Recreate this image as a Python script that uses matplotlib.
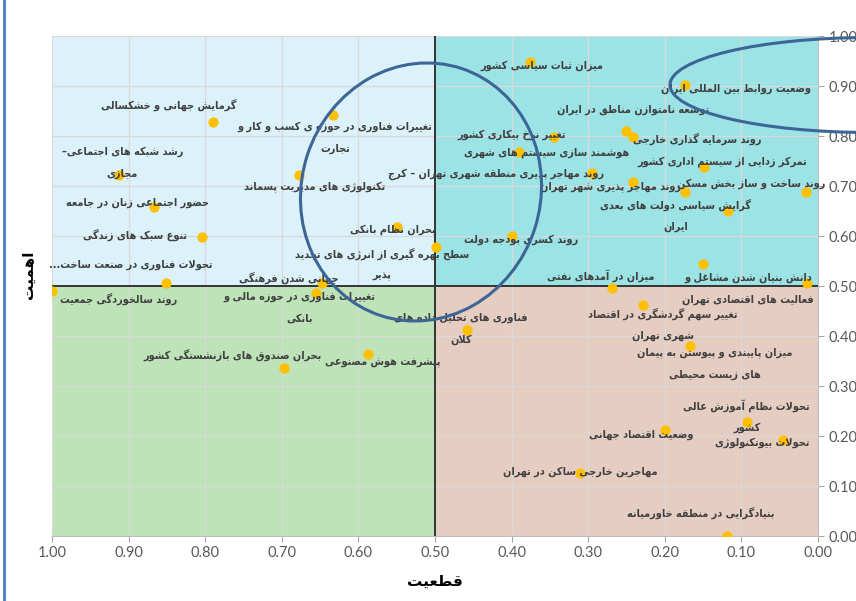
import numpy as np
import matplotlib
matplotlib.use('Agg')
import matplotlib.pyplot as plt
from matplotlib.patches import Ellipse
from matplotlib.lines import Line2D

# --- data (certainty on x, importance on y) ---
labels = [
    'گرمایش جهانی و خشکسالی',
    'رشد شبکه های اجتماعی–\nمجازی',
    'حضور اجتماعی زنان در جامعه',
    'تنوع سبک های زندگی',
    'تحولات فناوری در صنعت ساخت...',
    'روند سالخوردگی جمعیت',
    'تغییرات فناوری در حوزه ی کسب و کار و\nتجارت',
    'تکنولوژی های مدیریت پسماند',
    'بحران نظام بانکی',
    'سطح بهره گیری از انرژی های تجدید\nپذیر',
    'جهانی شدن فرهنگی',
    'تغییرات فناوری در حوزه مالی و\nبانکی',
    'بحران صندوق های بازنشستگی کشور',
    'پیشرفت هوش مصنوعی',
    'فناوری های تحلیل داده های\nکلان',
    'میزان ثبات سیاسی کشور',
    'وضعیت روابط بین المللی ایران',
    'توسعه نامتوازن مناطق در ایران',
    'روند سرمایه گذاری خارجی',
    'تغییر نرخ بیکاری کشور',
    'هوشمند سازی سیستم های شهری',
    'روند مهاجر پذیری منطقه شهری تهران – کرج',
    'روند مهاجر پذیری شهر تهران',
    'تمرکز زدایی از سیستم اداری کشور',
    'روند ساخت و ساز بخش مسکن',
    'گرایش سیاسی دولت های بعدی\nایران',
    '',
    'روند کسری بودجه دولت',
    'میزان در آمدهای نفتی',
    'دانش بنیان شدن مشاغل و\nفعالیت های اقتصادی تهران',
    '',
    'تغییر سهم گردشگری در اقتصاد\nشهری تهران',
    'میزان پایبندی و پیوستن به پیمان\nهای زیست محیطی',
    'تحولات نظام آموزش عالی\nکشور',
    'تحولات بیوتکنولوژی',
    'وضعیت اقتصاد جهانی',
    'مهاجرین خارجی ساکن در تهران',
    'بنیادگرایی در منطقه خاورمیانه',
]
certainty = [0.790, 0.912, 0.867, 0.804, 0.851, 1.000, 0.633, 0.678, 0.549, 0.499,
             0.647, 0.656, 0.697, 0.587, 0.458, 0.376, 0.173, 0.251, 0.242, 0.344,
             0.390, 0.295, 0.242, 0.149, 0.016, 0.118, 0.173, 0.400, 0.269, 0.014,
             0.150, 0.229, 0.167, 0.093, 0.046, 0.200, 0.311, 0.119]
importance = [0.828, 0.722, 0.658, 0.598, 0.506, 0.490, 0.842, 0.722, 0.618, 0.578,
              0.506, 0.486, 0.336, 0.364, 0.412, 0.948, 0.902, 0.810, 0.798, 0.798,
              0.768, 0.726, 0.708, 0.738, 0.688, 0.650, 0.688, 0.600, 0.496, 0.506,
              0.544, 0.462, 0.380, 0.228, 0.192, 0.212, 0.126, 0.000]
ticks = [0.0, 0.1, 0.2, 0.3, 0.4, 0.5, 0.6, 0.7, 0.8, 0.9, 1.0]

# label offsets from their point, in pixels (centre of the label block)
offsets = [(-44, 17), (3, 12), (-16, 4), (-67, 2), (-35, 18), (67, -8), (2, -23),
           (16, -12), (-5, -3), (-54, -18), (-34, 5), (-16, -15), (-52, 13), (14, -9),
           (-6, 1), (12, -4), (51, -4), (7, 21), (65, -2), (-43, 2), (27, -1),
           (-96, -1), (-22, -5), (18, 5), (-55, 8), (-52, -5), (0, 0), (10, -4),
           (-11, 12), (-59, -6), (0, 0), (20, -20), (25, -18), (0, 5), (-21, -3),
           (-24, -5), (0, 1), (-26, 23)]
line_pitch = 22  # px between lines of a wrapped label

# --- minimal Persian shaping (matplotlib has no complex text layout) ---
FORMS = {
    'ا': ('\uFE8D', '\uFE8E', None, None), 'آ': ('\uFE81', '\uFE82', None, None),
    'ب': ('\uFE8F', '\uFE90', '\uFE91', '\uFE92'), 'پ': ('\uFB56', '\uFB57', '\uFB58', '\uFB59'),
    'ت': ('\uFE95', '\uFE96', '\uFE97', '\uFE98'), 'ث': ('\uFE99', '\uFE9A', '\uFE9B', '\uFE9C'),
    'ج': ('\uFE9D', '\uFE9E', '\uFE9F', '\uFEA0'), 'چ': ('\uFB7A', '\uFB7B', '\uFB7C', '\uFB7D'),
    'ح': ('\uFEA1', '\uFEA2', '\uFEA3', '\uFEA4'), 'خ': ('\uFEA5', '\uFEA6', '\uFEA7', '\uFEA8'),
    'د': ('\uFEA9', '\uFEAA', None, None), 'ذ': ('\uFEAB', '\uFEAC', None, None),
    'ر': ('\uFEAD', '\uFEAE', None, None), 'ز': ('\uFEAF', '\uFEB0', None, None),
    'ژ': ('\uFB8A', '\uFB8B', None, None),
    'س': ('\uFEB1', '\uFEB2', '\uFEB3', '\uFEB4'), 'ش': ('\uFEB5', '\uFEB6', '\uFEB7', '\uFEB8'),
    'ص': ('\uFEB9', '\uFEBA', '\uFEBB', '\uFEBC'), 'ض': ('\uFEBD', '\uFEBE', '\uFEBF', '\uFEC0'),
    'ط': ('\uFEC1', '\uFEC2', '\uFEC3', '\uFEC4'), 'ظ': ('\uFEC5', '\uFEC6', '\uFEC7', '\uFEC8'),
    'ع': ('\uFEC9', '\uFECA', '\uFECB', '\uFECC'), 'غ': ('\uFECD', '\uFECE', '\uFECF', '\uFED0'),
    'ف': ('\uFED1', '\uFED2', '\uFED3', '\uFED4'), 'ق': ('\uFED5', '\uFED6', '\uFED7', '\uFED8'),
    'ک': ('\uFB8E', '\uFB8F', '\uFB90', '\uFB91'), 'گ': ('\uFB92', '\uFB93', '\uFB94', '\uFB95'),
    'ل': ('\uFEDD', '\uFEDE', '\uFEDF', '\uFEE0'), 'م': ('\uFEE1', '\uFEE2', '\uFEE3', '\uFEE4'),
    'ن': ('\uFEE5', '\uFEE6', '\uFEE7', '\uFEE8'), 'ه': ('\uFEE9', '\uFEEA', '\uFEEB', '\uFEEC'),
    'و': ('\uFEED', '\uFEEE', None, None),
    'ی': ('\uFBFC', '\uFBFD', '\uFBFE', '\uFBFF'), 'ئ': ('\uFE89', '\uFE8A', '\uFE8B', '\uFE8C'),
}
LAM_ALEF = {'ا': ('\uFEFB', '\uFEFC'), 'آ': ('\uFEF5', '\uFEF6')}


def shape_line(s):
    out = []
    n = len(s)
    i = 0
    while i < n:
        c = s[i]
        if c not in FORMS:
            out.append(c)
            i += 1
            continue
        prev = s[i - 1] if i > 0 else None
        pj = prev in FORMS and FORMS[prev][2] is not None
        if c == 'ل' and i + 1 < n and s[i + 1] in LAM_ALEF:
            lig = LAM_ALEF[s[i + 1]]
            out.append(lig[1] if pj else lig[0])
            i += 2
            continue
        nxt = s[i + 1] if i + 1 < n else None
        nj = FORMS[c][2] is not None and nxt in FORMS
        iso, fin, ini, med = FORMS[c]
        if pj and nj:
            out.append(med)
        elif pj:
            out.append(fin)
        elif nj:
            out.append(ini)
        else:
            out.append(iso)
        i += 1
    return ''.join(out)[::-1]


def fa(s):
    return '\n'.join(shape_line(l) for l in s.split('\n'))


fig = plt.figure(figsize=(8.56, 6.01), dpi=100)
ax = fig.add_axes([52 / 856, 65 / 601, 766 / 856, 500 / 601])

# quadrant backgrounds
ax.fill_between([1.0, 0.5], 0.5, 1.0, color='#DCF2FB', zorder=0, lw=0)
ax.fill_between([0.5, 0.0], 0.5, 1.0, color='#9CE3E6', zorder=0, lw=0)
ax.fill_between([1.0, 0.5], 0.0, 0.5, color='#BEE3B9', zorder=0, lw=0)
ax.fill_between([0.5, 0.0], 0.0, 0.5, color='#E6CDC2', zorder=0, lw=0)

ax.set_xlim(1.0, 0.0)
ax.set_ylim(0.0, 1.0)
ax.set_xticks(ticks)
ax.set_yticks(ticks)
ax.set_xticklabels([f'{t:.2f}' for t in ticks])
ax.set_yticklabels([f'{t:.2f}' for t in ticks])
ax.yaxis.tick_right()
ax.grid(True, color='#D9D9D9', lw=0.9, zorder=0.5)
ax.set_axisbelow(True)
ax.tick_params(axis='both', colors='#A6A6A6', labelcolor='#595959', labelsize=10.5,
               length=4, width=0.8)
for lab in ax.get_xticklabels() + ax.get_yticklabels():
    lab.set_family('Lato')
for sp in ['top', 'left']:
    ax.spines[sp].set_visible(False)
for sp in ['right', 'bottom']:
    ax.spines[sp].set_color('#BFBFBF')

ax.axvline(0.5, color='#333333', lw=1.4, zorder=1)
ax.axhline(0.5, color='#333333', lw=1.4, zorder=1)

ax.scatter(certainty, importance, s=55, color='#FFC000', zorder=3, linewidths=0)

for lab, x, y, off in zip(labels, certainty, importance, offsets):
    if not lab:
        continue
    lines = lab.split('\n')
    n = len(lines)
    for i, line in enumerate(lines):
        dy = off[1] + (n - 1) / 2 * line_pitch - i * line_pitch
        ax.annotate(fa(line), (x, y), xytext=(off[0], dy), textcoords='offset pixels',
                    ha='center', va='center',
                    fontsize=7.8, fontweight='bold', fontstretch='condensed',
                    color='#404040', family='DejaVu Sans',
                    zorder=4, annotation_clip=False)

ax.set_xlabel(fa('قطعیت'), fontsize=11, fontweight='bold', color='black', labelpad=10)
fig.text(28 / 856, 1 - 275 / 601, fa('اهمیت'), rotation=90, fontsize=11,
         fontweight='bold', ha='center', va='center')

# hand-drawn highlight ellipses (in inches on the figure)
fig.add_artist(Ellipse((4.21, 4.09), 2.39, 2.60, angle=-18, fill=False,
                       ec='#3D6596', lw=2.2, transform=fig.dpi_scale_trans))
fig.add_artist(Ellipse((8.70, 5.16), 4.0, 0.95, angle=0, fill=False,
                       ec='#3D6596', lw=2.2, transform=fig.dpi_scale_trans))
fig.add_artist(Line2D([0.035, 0.035], [0, 6.01], color='#4A7EC0', lw=2,
                      transform=fig.dpi_scale_trans))

fig.savefig('out.png', dpi=100)
